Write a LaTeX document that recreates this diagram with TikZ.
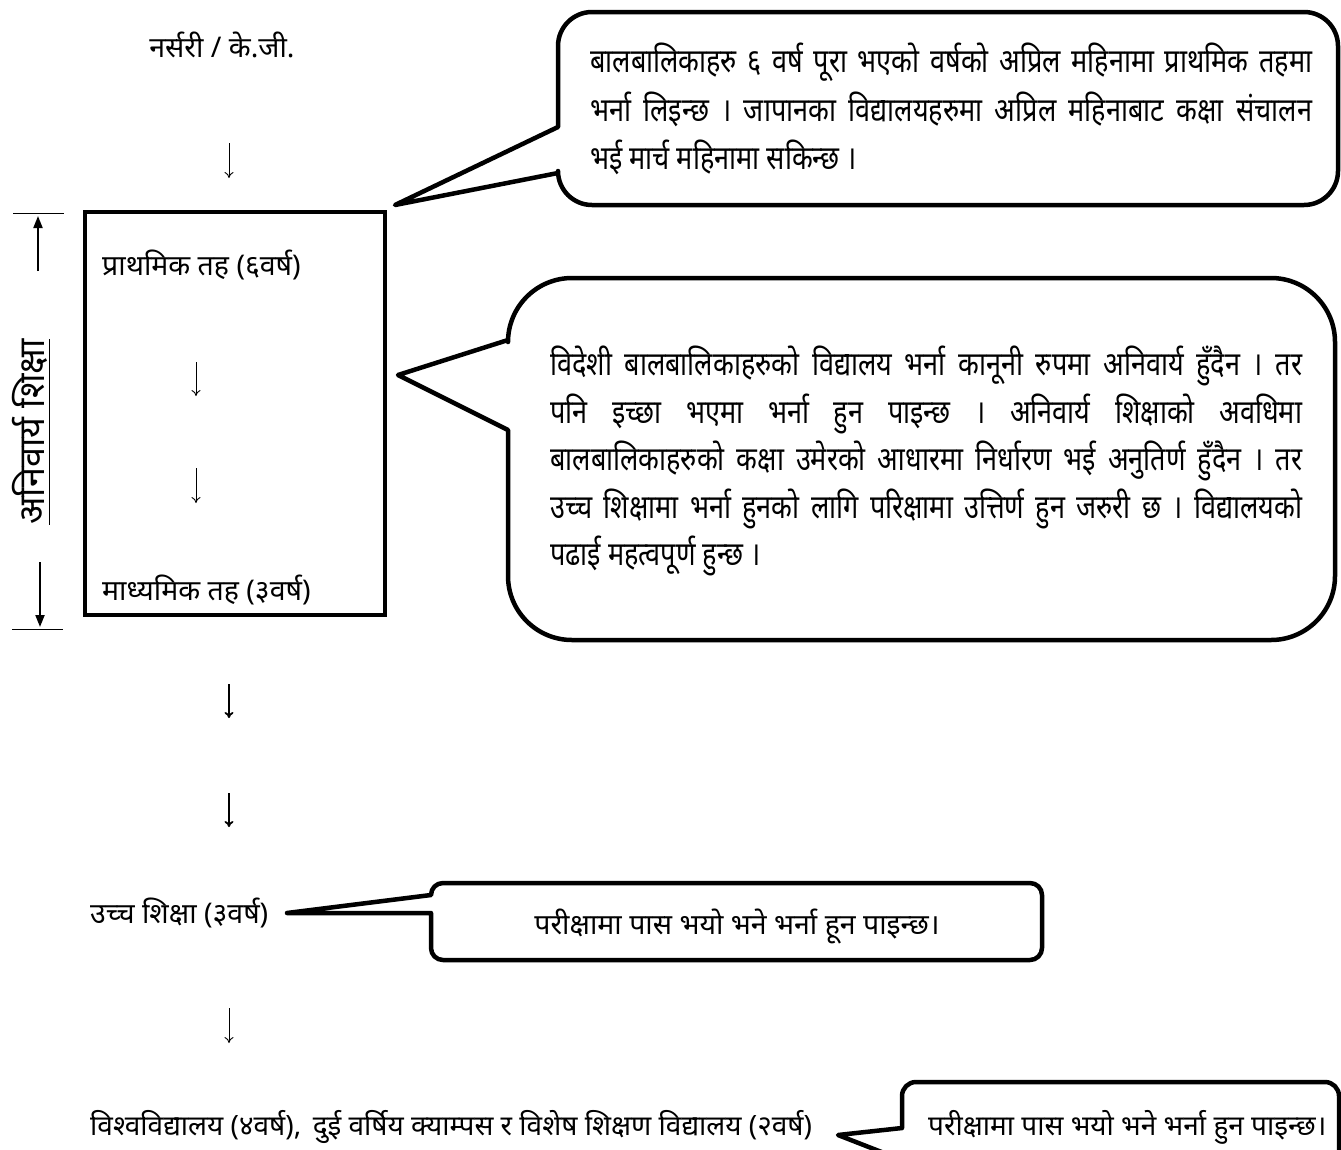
\documentclass[tikz,border=0pt]{standalone}
\usepackage{fontspec}
\setmainfont[Script=Devanagari]{Noto Sans}
\newfontfamily\devc[Script=Devanagari,FakeStretch=0.82]{Noto Sans}
\usetikzlibrary{arrows.meta}
\begin{document}
\begin{tikzpicture}[x=1pt,y=-1pt,
  lab/.style={inner sep=0pt, font=\fontsize{28.5}{32}\selectfont},
  ctext/.style={inner sep=0pt, anchor=west, font=\devc\fontsize{33}{38}\selectfont},
  flow/.style={-{To[length=6pt,width=9pt]}, line width=0.9pt},
  flowb/.style={-{To[length=6pt,width=9pt]}, line width=1.8pt},
  bubble/.style={line width=4.5pt, line join=round},
  dimarrow/.style={line width=2pt, -{Triangle[length=12pt,width=9pt]}},
  dimline/.style={line width=1pt},
]
\useasboundingbox (0,0) rectangle (1341,1149);
\clip (0,0) rectangle (1341,1149);

% left column labels
\node[lab] (nursery) at (222,45) {नर्सरी / के.जी.};
\node[draw, line width=4pt, minimum width=300pt, minimum height=403pt, inner sep=0pt] (box) at (235,413) {};
\node[lab, anchor=west] (prim) at (102,265) {प्राथमिक तह (६वर्ष)};
\node[lab, anchor=west] (sec) at (102,590) {माध्यमिक तह (३वर्ष)};
\node[lab, anchor=west] (high) at (90,913) {उच्च शिक्षा (३वर्ष)};
\node[lab, anchor=west, font=\fontsize{28}{32}\selectfont] (univ) at (90,1127) {विश्वविद्यालय (४वर्ष),\hspace{0.15em} दुई वर्षिय क्याम्पस र विशेष शिक्षण विद्यालय (२वर्ष)};

% flow arrows
\coordinate (a1s) at (229,143); \coordinate (a1e) at (229,178);
\coordinate (a2s) at (196,362); \coordinate (a2e) at (196,396);
\coordinate (a3s) at (196,468); \coordinate (a3e) at (196,503);
\coordinate (a4s) at (229,684); \coordinate (a4e) at (229,718);
\coordinate (a5s) at (229,793); \coordinate (a5e) at (229,827);
\coordinate (a6s) at (229,1008); \coordinate (a6e) at (229,1043);
\draw[flow] (a1s) -- (a1e);
\draw[flow] (a2s) -- (a2e);
\draw[flow] (a3s) -- (a3e);
\draw[flowb] (a4s) -- (a4e);
\draw[flowb] (a5s) -- (a5e);
\draw[flow] (a6s) -- (a6e);

% dimension on the left
\coordinate (dt1) at (13,213); \coordinate (dt2) at (64,213);
\coordinate (db1) at (12,629); \coordinate (db2) at (63,629);
\draw[dimline] (dt1) -- (dt2);
\draw[dimline] (db1) -- (db2);
\coordinate (ut) at (38,216); \coordinate (ub) at (38,271);
\coordinate (dtp) at (40,562); \coordinate (dbt) at (40,627);
\draw[dimarrow] (ub) -- (ut);
\draw[dimarrow] (dtp) -- (dbt);
\node[rotate=90, inner sep=0pt, font=\fontsize{36}{40}\selectfont] (lbl) at (31,432) {\underline{अनिवार्य शिक्षा}};

% callout 1
\draw[bubble] (395,205) -- (558,127) [rounded corners=34pt] -- (558,12) -- (1338,12) -- (1338,205) -- (558,205) [sharp corners] -- (558,173) -- cycle;
\node[ctext] (c1a) at (590,62) {\makebox[722pt][s]{बालबालिकाहरु ६ वर्ष पूरा भएको वर्षको अप्रिल महिनामा प्राथमिक तहमा}};
\node[ctext] (c1b) at (590,109.5) {\makebox[722pt][s]{भर्ना लिइन्छ । जापानका विद्यालयहरुमा अप्रिल महिनाबाट कक्षा संचालन}};
\node[ctext] (c1c) at (590,157) {भई मार्च महिनामा सकिन्छ ।};

% callout 2
\draw[bubble] (398,375) -- (508,340) [rounded corners=64pt] -- (508,278) -- (1335,278) -- (1335,640) -- (508,640) [sharp corners] -- (508,430) -- cycle;
\node[ctext] (c2a) at (550,366) {\makebox[752pt][s]{विदेशी बालबालिकाहरुको विद्यालय भर्ना कानूनी रुपमा अनिवार्य हुँदैन । तर}};
\node[ctext] (c2b) at (550,413.5) {\makebox[752pt][s]{पनि इच्छा भएमा भर्ना हुन पाइन्छ । अनिवार्य शिक्षाको अवधिमा}};
\node[ctext] (c2c) at (550,461) {\makebox[752pt][s]{बालबालिकाहरुको कक्षा उमेरको आधारमा निर्धारण भई अनुतिर्ण हुँदैन । तर}};
\node[ctext] (c2d) at (550,508.5) {\makebox[752pt][s]{उच्च शिक्षामा भर्ना हुनको लागि परिक्षामा उत्तिर्ण हुन जरुरी छ । विद्यालयको}};
\node[ctext] (c2e) at (550,556) {पढाई महत्वपूर्ण हुन्छ ।};

% callout 3
\draw[bubble] (287,913) -- (431,895) [rounded corners=12pt] -- (431,883) -- (1042,883) -- (1042,960) -- (431,960) [sharp corners] -- (431,913) -- cycle;
\node[lab] (c3) at (737,926) {परीक्षामा पास भयो भने भर्ना हून पाइन्छ।};

% callout 4
\draw[bubble] (838,1135) -- (902,1128) [rounded corners=14pt] -- (902,1082) -- (1339,1082) -- (1339,1190) [sharp corners] -- (902,1190) -- (902,1160) -- cycle;
\node[lab, anchor=west, font=\fontsize{28}{32}\selectfont] (c4) at (928,1127) {परीक्षामा पास भयो भने भर्ना हुन पाइन्छ।};
\end{tikzpicture}
\end{document}
